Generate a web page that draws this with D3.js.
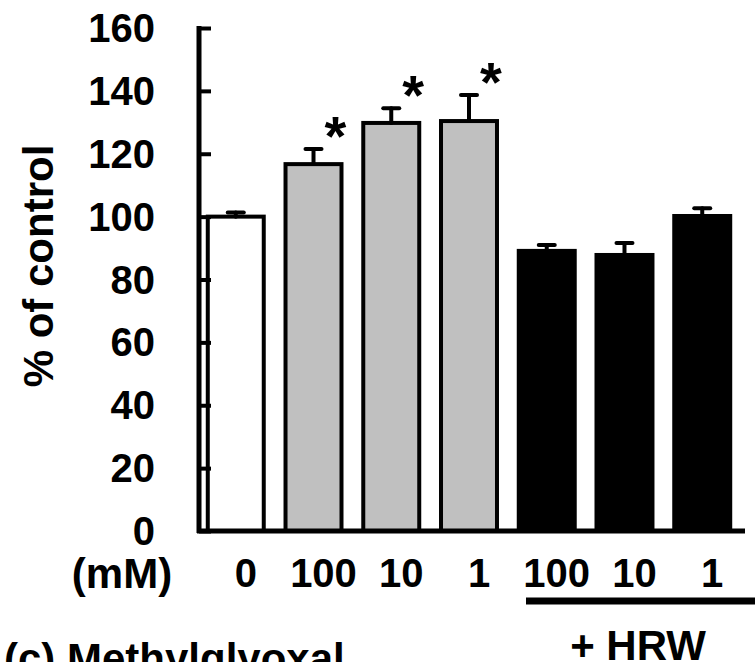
<!DOCTYPE html>
<html><head><meta charset="utf-8">
<script src="https://cdn.jsdelivr.net/npm/d3@7"></script>
<style>
html,body{margin:0;padding:0;background:#fff;}
svg{display:block;}
text{font-family:"Liberation Sans",Arial,sans-serif;font-weight:bold;fill:#000;}
</style></head>
<body>
<script>
const categories = ["0", "100", "10", "1", "100", "10", "1"];
const values = [100, 116.7, 129.8, 130.4, 89.1, 87.8, 100.2];
const errors = [1.3, 4.8, 4.7, 8.3, 1.9, 3.8, 2.5];
const groups = ["control", "mg", "mg", "mg", "hrw", "hrw", "hrw"];
const significant = [false, true, true, true, false, false, false];
const yTicks = [0, 20, 40, 60, 80, 100, 120, 140, 160];

const W = 755, H = 662;
const svg = d3.select("body").append("svg").attr("width", W).attr("height", H);

const x = d3.scaleBand().domain(d3.range(categories.length))
  .range([200, 738]).paddingInner(0.28).paddingOuter(0.1);
const y = d3.scaleLinear().domain([0, 160]).range([531, 28]);
const fill = {control: "#ffffff", mg: "#c0c0c0", hrw: "#000000"};

// bars
svg.selectAll("rect.bar").data(values).join("rect")
  .attr("class", "bar")
  .attr("x", (d, i) => x(i))
  .attr("y", d => y(d))
  .attr("width", x.bandwidth())
  .attr("height", d => y(0) - y(d))
  .attr("fill", (d, i) => fill[groups[i]])
  .attr("stroke", "#000").attr("stroke-width", 4);

// error bars (upper only)
const eb = svg.append("g").attr("stroke", "#000").attr("stroke-width", 4).attr("stroke-linecap", "round");
values.forEach((v, i) => {
  const cx = x(i) + x.bandwidth() / 2;
  eb.append("line").attr("x1", cx).attr("x2", cx).attr("y1", y(v)).attr("y2", y(v + errors[i]));
  eb.append("line").attr("x1", cx - 8).attr("x2", cx + 8).attr("y1", y(v + errors[i])).attr("y2", y(v + errors[i]));
});

// asterisks
values.forEach((v, i) => {
  if (!significant[i]) return;
  svg.append("text")
    .attr("x", x(i) + x.bandwidth() - 6)
    .attr("y", y(v + errors[i]) - 24 + 30)
    .attr("text-anchor", "middle")
    .attr("font-size", 56)
    .text("*");
});

// y axis
const yAxis = d3.axisRight(y).tickValues(yTicks).tickSize(12).tickFormat("");
const ga = svg.append("g").attr("transform", "translate(199,0)").call(yAxis);
ga.select(".domain").remove();
ga.selectAll(".tick line").attr("stroke", "#000").attr("stroke-width", 4);
svg.append("line").attr("x1", 199).attr("x2", 199).attr("y1", y(160) - 2).attr("y2", y(0) + 2)
  .attr("stroke", "#000").attr("stroke-width", 5);
svg.append("line").attr("x1", 197).attr("x2", 745).attr("y1", y(0)).attr("y2", y(0))
  .attr("stroke", "#000").attr("stroke-width", 5);

svg.selectAll("text.ytick").data(yTicks).join("text")
  .attr("class", "ytick")
  .attr("x", 155).attr("y", d => y(d) + 14)
  .attr("text-anchor", "end").attr("font-size", 40)
  .text(d => d);

// y label
svg.append("text")
  .attr("transform", `translate(53,${266}) rotate(-90)`)
  .attr("text-anchor", "middle").attr("font-size", 42)
  .text("% of control");

// x labels
svg.selectAll("text.xtick").data(categories).join("text")
  .attr("class", "xtick")
  .attr("x", (d, i) => x(i) + x.bandwidth() / 2 + 10)
  .attr("y", 587)
  .attr("text-anchor", "middle").attr("font-size", 40)
  .text(d => d);

svg.append("text").attr("x", 122).attr("y", 588).attr("text-anchor", "middle")
  .attr("font-size", 42).text("(mM)");

// HRW bracket line
svg.append("line").attr("x1", 526).attr("x2", 760).attr("y1", 601).attr("y2", 601)
  .attr("stroke", "#000").attr("stroke-width", 7);
svg.append("text").attr("x", 638).attr("y", 660).attr("text-anchor", "middle")
  .attr("font-size", 42).text("+ HRW");

svg.append("text").attr("x", 4).attr("y", 673).attr("font-size", 42).text("(c) Methylglyoxal");
</script>
</body></html>
